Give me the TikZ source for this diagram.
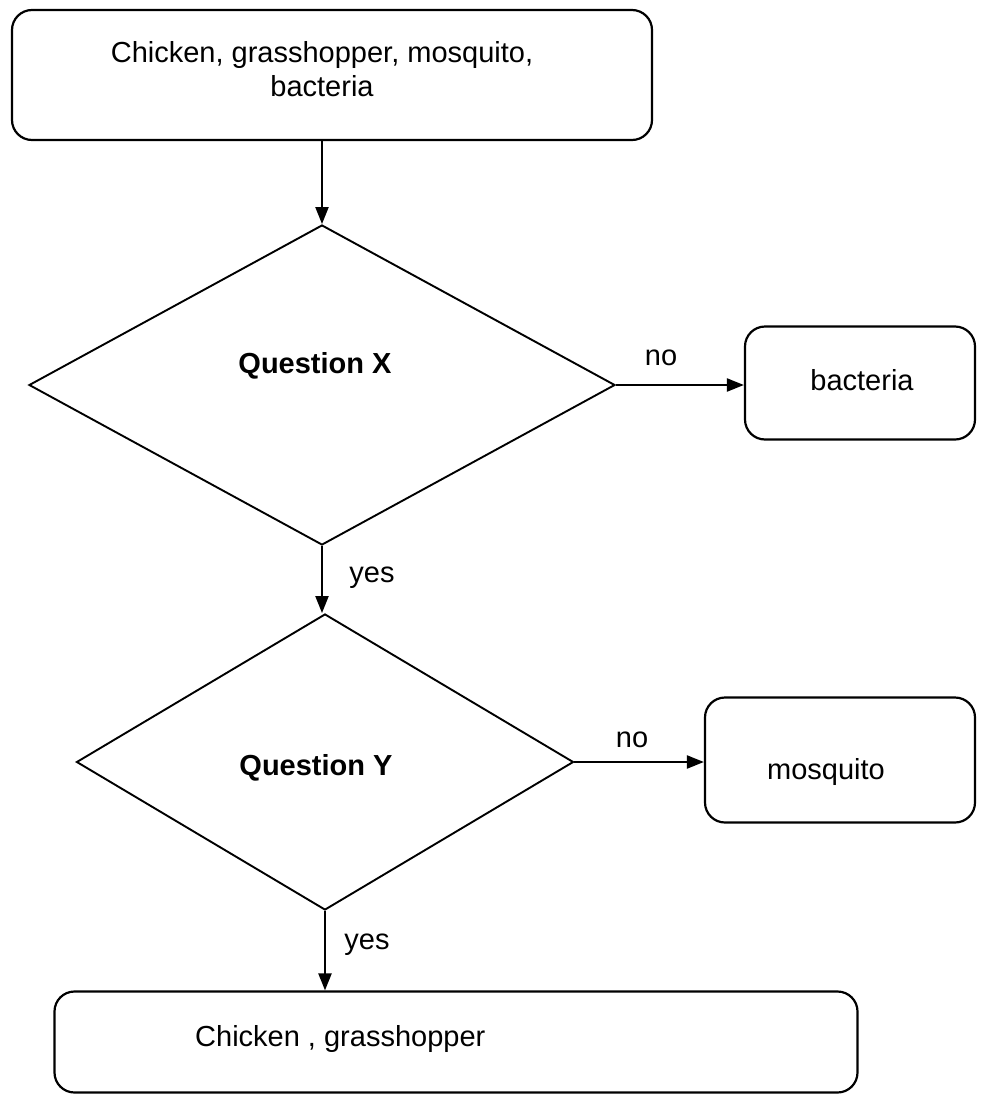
\documentclass[tikz,border=0pt]{standalone}
\usepackage{fontspec}
\setmainfont{Liberation Sans}
\usetikzlibrary{arrows.meta,shapes.geometric}
\begin{document}
\begin{tikzpicture}[x=1pt,y=-1pt,
  box/.style={draw,rounded corners=20pt,line width=2.2pt,inner sep=0pt},
  decision/.style={draw,diamond,line width=1.9pt,inner sep=0pt},
  lbl/.style={font=\fontsize{29}{34}\selectfont,inner sep=0pt,align=center},
  qlbl/.style={inner sep=0pt,font=\fontsize{29}{34}\selectfont\bfseries},
  flow/.style={line width=2.2pt,-{Triangle[length=17pt,width=13pt]}},
]
\useasboundingbox[fill=white] (0,0) rectangle (993,1098);

% boxes
\node[box,minimum width=640pt,minimum height=130pt] (start) at (332,75) {};
\node[lbl] (startText) at (322,69) {Chicken, grasshopper, mosquito,\\bacteria};

\node[box,minimum width=230pt,minimum height=113pt] (bact) at (860,383) {};
\node[lbl] (bactText) at (862,380) {bacteria};

\node[box,minimum width=270pt,minimum height=125pt] (mosq) at (840,760) {};
\node[lbl] (mosqText) at (826,772) {mosquito};

\node[box,minimum width=803pt,minimum height=101pt] (res) at (456,1042) {};
\node[lbl,anchor=west] (resText) at (195,1039) {Chicken , grasshopper};

% decisions
\node[decision,minimum width=586pt,minimum height=320pt] (qx) at (322,385) {};
\node[qlbl] (qxText) at (315,366) {Question X};

\node[decision,minimum width=497pt,minimum height=296pt] (qy) at (325,762) {};
\node[qlbl] (qyText) at (316,768) {Question Y};

% connectors
\draw[flow] (qx.north |- start.south) -- (qx.north);
\draw[flow] (qx.east) -- (qx.east -| bact.west);
\draw[flow] (qx.south) -- (qx.south |- qy.north);
\draw[flow] (qy.east) -- (qy.east -| mosq.west);
\draw[flow] (qy.south) -- (qy.south |- res.north);

% branch labels
\node[lbl] (noX) at (661,358) {no};
\node[lbl] (yesX) at (372,578) {yes};
\node[lbl] (noY) at (632,740) {no};
\node[lbl] (yesY) at (367,945) {yes};
\end{tikzpicture}
\end{document}
